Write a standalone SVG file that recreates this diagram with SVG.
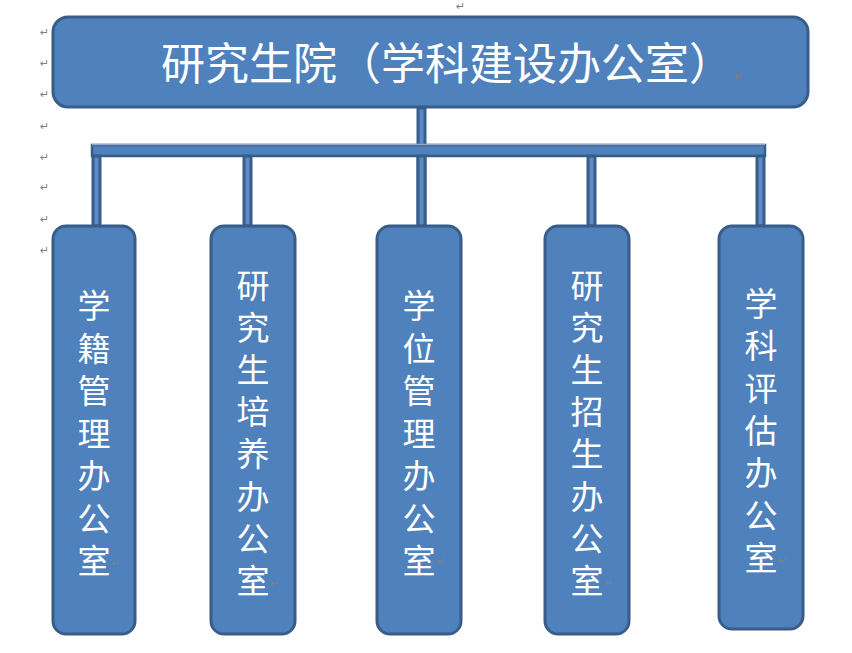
<svg xmlns="http://www.w3.org/2000/svg" width="852" height="653" viewBox="0 0 852 653">
<style>
.box{fill:#4F81BD;stroke:#385D8A;stroke-width:3}
.t{font-family:"Liberation Sans","Noto Sans CJK SC","Noto Sans CJK JP",sans-serif;fill:#FFFFFF}
.v{font-size:33px;text-anchor:middle}
.pm{font-family:"DejaVu Sans",sans-serif;font-size:11px;fill:#7F7F7F}
.drop{fill:#5B8AC6;stroke:#385D8A;stroke-width:3}
</style>
<rect width="852" height="653" fill="#FFFFFF"/>
<g id="paragraph-marks">
<text class="pm" x="456" y="10">↵</text>
<text class="pm" x="40" y="36">↵</text>
<text class="pm" x="40" y="67">↵</text>
<text class="pm" x="40" y="98">↵</text>
<text class="pm" x="40" y="130">↵</text>
<text class="pm" x="40" y="161">↵</text>
<text class="pm" x="40" y="191">↵</text>
<text class="pm" x="40" y="223">↵</text>
<text class="pm" x="40" y="254">↵</text>
</g>
<g id="connectors">
<rect class="drop" x="418" y="108" width="7" height="118"/>
<rect x="92" y="145" width="673" height="11" fill="#4F81BD" stroke="#385D8A" stroke-width="2.5"/>
<line x1="92" y1="144.5" x2="765" y2="144.5" stroke="#95A9C8" stroke-width="1.5"/>
<rect class="drop" x="93" y="156" width="7" height="70"/>
<rect class="drop" x="244" y="156" width="7" height="70"/>
<rect class="drop" x="418" y="156" width="7" height="70"/>
<rect class="drop" x="588" y="156" width="7" height="70"/>
<rect class="drop" x="757" y="156" width="7" height="70"/>
</g>
<g id="node-top">
<rect class="box" x="53" y="17" width="755" height="90" rx="15"/>
<text class="t" x="161" y="80" font-size="44">研究生院（学科建设办公室）</text>
<text class="pm" x="734" y="80">↵</text>
</g>
<g id="node-1">
<rect class="box" x="53" y="226" width="82" height="408" rx="13"/>
<text class="t v" y="318"><tspan x="94">学</tspan><tspan x="94" dy="42.5">籍</tspan><tspan x="94" dy="42.5">管</tspan><tspan x="94" dy="42.5">理</tspan><tspan x="94" dy="42.5">办</tspan><tspan x="94" dy="42.5">公</tspan><tspan x="94" dy="42.5">室</tspan></text>
<text class="pm" x="111" y="567">↵</text>
</g>
<g id="node-2">
<rect class="box" x="211" y="226" width="84" height="408" rx="13"/>
<text class="t v" y="298"><tspan x="253">研</tspan><tspan x="253" dy="42.1">究</tspan><tspan x="253" dy="42.1">生</tspan><tspan x="253" dy="42.1">培</tspan><tspan x="253" dy="42.1">养</tspan><tspan x="253" dy="42.1">办</tspan><tspan x="253" dy="42.1">公</tspan><tspan x="253" dy="42.1">室</tspan></text>
<text class="pm" x="270" y="587">↵</text>
</g>
<g id="node-3">
<rect class="box" x="377" y="226" width="84" height="408" rx="13"/>
<text class="t v" y="318"><tspan x="419">学</tspan><tspan x="419" dy="42.5">位</tspan><tspan x="419" dy="42.5">管</tspan><tspan x="419" dy="42.5">理</tspan><tspan x="419" dy="42.5">办</tspan><tspan x="419" dy="42.5">公</tspan><tspan x="419" dy="42.5">室</tspan></text>
<text class="pm" x="436" y="565">↵</text>
</g>
<g id="node-4">
<rect class="box" x="545" y="226" width="84" height="408" rx="13"/>
<text class="t v" y="298"><tspan x="587">研</tspan><tspan x="587" dy="42.1">究</tspan><tspan x="587" dy="42.1">生</tspan><tspan x="587" dy="42.1">招</tspan><tspan x="587" dy="42.1">生</tspan><tspan x="587" dy="42.1">办</tspan><tspan x="587" dy="42.1">公</tspan><tspan x="587" dy="42.1">室</tspan></text>
<text class="pm" x="604" y="587">↵</text>
</g>
<g id="node-5">
<rect class="box" x="719" y="226" width="84" height="403" rx="13"/>
<text class="t v" y="316"><tspan x="761">学</tspan><tspan x="761" dy="42.3">科</tspan><tspan x="761" dy="42.3">评</tspan><tspan x="761" dy="42.3">估</tspan><tspan x="761" dy="42.3">办</tspan><tspan x="761" dy="42.3">公</tspan><tspan x="761" dy="42.3">室</tspan></text>
<text class="pm" x="778" y="564">↵</text>
</g>
</svg>
